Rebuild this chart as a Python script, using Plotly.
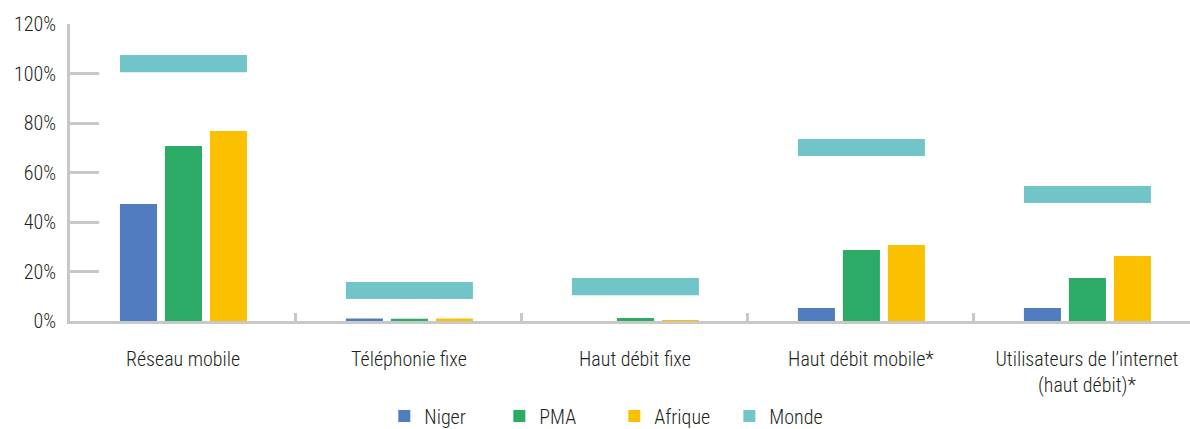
"""Comparaison Niger / PMA / Afrique / Monde des indicateurs TIC."""

import plotly.graph_objects as go

categories = [
    "Réseau mobile",
    "Téléphonie fixe",
    "Haut débit fixe",
    "Haut débit mobile*",
    "Utilisateurs de l’internet<br>(haut débit)*",
]
niger = [47.3, 1.0, 0.0, 5.3, 5.3]
pma = [70.7, 0.9, 1.2, 28.7, 17.4]
afrique = [76.8, 1.0, 0.4, 30.7, 26.3]
monde = [104.0, 12.3, 13.9, 70.1, 51.1]

y_ticks = [0, 20, 40, 60, 80, 100, 120]
y_tick_labels = [f"{v}%" for v in y_ticks]

FONT = "Roboto Condensed, DejaVu Sans Condensed, Liberation Sans Narrow, Roboto, sans-serif"
AXIS_GREY = "#c8c8c8"
TEXT = "#231f20"

# band thickness for the "Monde" marker, in percentage points
BAND = 6.9
BAR_W = 0.164

figure = go.Figure()
for name, values, colour, offset in [
    ("Niger", niger, "#517dc0", -0.279),
    ("PMA", pma, "#2bab66", -0.080),
    ("Afrique", afrique, "#fbc000", 0.119),
]:
    figure.add_trace(
        go.Bar(
            x=categories,
            y=values,
            name=name,
            marker=dict(color=colour, line=dict(width=0)),
            width=BAR_W,
            offset=offset,
            hovertemplate="%{x}<br>" + name + ": %{y}%<extra></extra>",
        )
    )

figure.add_trace(
    go.Bar(
        x=categories,
        y=[BAND] * len(monde),
        base=[v - BAND / 2 for v in monde],
        name="Monde",
        marker=dict(color="#71c5c8", line=dict(width=0)),
        width=0.562,
        offset=-0.279,
        customdata=monde,
        hovertemplate="%{x}<br>Monde: %{customdata}%<extra></extra>",
    )
)

figure.update_layout(
    width=1190,
    height=429,
    margin=dict(l=70, r=0, t=24, b=108, autoexpand=False),
    paper_bgcolor="white",
    plot_bgcolor="white",
    barmode="overlay",
    font=dict(family=FONT, size=20, weight=300, color=TEXT),
    showlegend=True,
    legend=dict(
        orientation="h",
        x=0.486,
        xanchor="center",
        y=-0.32,
        yanchor="middle",
        font=dict(size=20, weight=300),
        entrywidth=70,
        traceorder="normal",
    ),
    xaxis=dict(
        range=[-0.5, 4.456],
        automargin=False,
        showline=True,
        linecolor=AXIS_GREY,
        linewidth=3,
        ticks="inside",
        tickson="boundaries",
        ticklen=8,
        tickwidth=3,
        tickcolor=AXIS_GREY,
        showgrid=False,
        zeroline=False,
        ticklabelstandoff=18,
        tickfont=dict(size=20, weight=300, color=TEXT),
    ),
    yaxis=dict(
        range=[0, 120],
        automargin=False,
        tickvals=y_ticks,
        ticktext=y_tick_labels,
        showline=True,
        linecolor=AXIS_GREY,
        linewidth=3,
        ticks="inside",
        ticklen=29,
        tickwidth=3,
        tickcolor=AXIS_GREY,
        showgrid=False,
        zeroline=False,
        ticklabelstandoff=7,
        tickfont=dict(size=20, weight=300, color=TEXT),
    ),
)

# the page's default body margin shifts the figure by 8px; remove it
figure.write_html(
    "out.html",
    config={"displayModeBar": False},
    post_script="document.body.style.margin = '0';",
)
